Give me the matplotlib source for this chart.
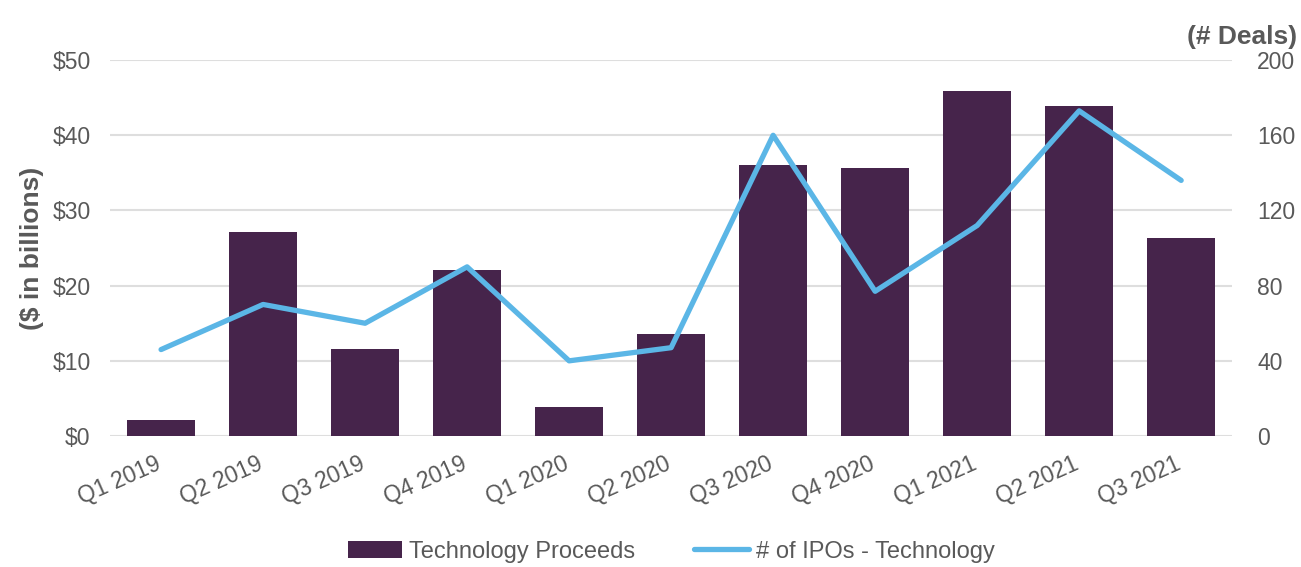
import numpy as np
import matplotlib.pyplot as plt
import matplotlib.transforms as mtransforms

quarters = ["Q1 2019", "Q2 2019", "Q3 2019", "Q4 2019", "Q1 2020", "Q2 2020",
            "Q3 2020", "Q4 2020", "Q1 2021", "Q2 2021", "Q3 2021"]
proceeds = [2.1, 27.2, 11.6, 22.1, 3.9, 13.6, 36.0, 35.7, 45.9, 43.9, 26.3]
deals = [46, 70, 60, 90, 40, 47, 160, 77, 112, 173, 136]

BAR = "#46244B"
LINE = "#5BB6E6"
TXT = "#595959"
GRID = "#DEDEDE"

plt.rcParams["font.family"] = ["Liberation Sans", "DejaVu Sans"]

fig = plt.figure(figsize=(13.01, 5.67), dpi=100)
ax = fig.add_axes([0.0846, 0.231, 0.8625, 0.663])
ax2 = ax.twinx()

x = np.arange(len(quarters))
ax.bar(x, proceeds, width=0.67, color=BAR, label="Technology Proceeds", zorder=2)
ax2.plot(x, deals, color=LINE, linewidth=3.8, solid_capstyle="round",
         label="# of IPOs - Technology", zorder=3)

ax.set_xlim(-0.5, len(quarters) - 0.5)
ax.set_ylim(0, 50)
ax2.set_ylim(0, 200)
ax.set_yticks(range(0, 51, 10))
ax.set_yticklabels([f"${v}" for v in range(0, 51, 10)])
ax2.set_yticks(range(0, 201, 40))

ax.yaxis.grid(True, color=GRID, linewidth=1.5, zorder=0)
ax.set_axisbelow(True)
for a in (ax, ax2):
    for s in a.spines.values():
        s.set_visible(False)
    a.tick_params(length=0, labelsize=16.5, labelcolor=TXT)
ax.tick_params(axis="y", pad=14)
ax2.tick_params(axis="y", pad=18)

ax.set_xticks(x)
ax.set_xticklabels(quarters, rotation=24, ha="right", va="top",
                   rotation_mode="anchor")
ax.tick_params(axis="x", pad=12)
shift = mtransforms.ScaledTranslation(-6 / 100, 0, fig.dpi_scale_trans)
for lbl in ax.get_xticklabels():
    lbl.set_transform(lbl.get_transform() + shift)

ax.set_ylabel("($ in billions)", fontsize=19, fontweight="bold", color=TXT,
              labelpad=6)
fig.text(0.912, 0.935, "(# Deals)", fontsize=19, fontweight="bold", color=TXT,
         ha="left", va="center")

h1, l1 = ax.get_legend_handles_labels()
h2, l2 = ax2.get_legend_handles_labels()
fig.legend(h1 + h2, l1 + l2, loc="center", bbox_to_anchor=(0.516, 0.027),
           ncol=2, frameon=False, fontsize=17, labelcolor=TXT,
           handlelength=2.3, handletextpad=0.3, columnspacing=2.5)

fig.savefig("out.png", dpi=100)
